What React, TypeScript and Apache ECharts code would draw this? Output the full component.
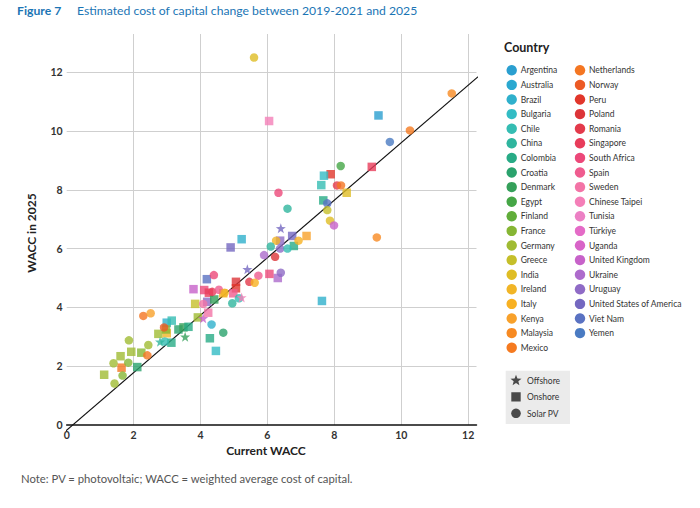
import React, { useEffect, useRef } from "react";
import * as echarts from "echarts";

const countries = [
  "Argentina", "Australia", "Brazil", "Bulgaria", "Chile", "China", "Colombia", "Croatia", "Denmark", "Egypt",
  "Finland", "France", "Germany", "Greece", "India", "Ireland", "Italy", "Kenya", "Malaysia", "Mexico",
  "Netherlands", "Norway", "Peru", "Poland", "Romania", "Singapore", "South Africa", "Spain", "Sweden",
  "Chinese Taipei", "Tunisia", "Türkiye", "Uganda", "United Kingdom", "Ukraine", "Uruguay",
  "United States of America", "Viet Nam", "Yemen",
];
const countryColors = [
  "#2a9fd0", "#2aa8d0", "#2fb0cc", "#33bcc4", "#35bdb3", "#2fb59e", "#28ab86", "#2aa26d", "#35a05a", "#45a646",
  "#61ad3a", "#86b634", "#a0bb33", "#c5bf2a", "#dfbd24", "#f1b527", "#f8b122", "#f8a12b", "#f78a22", "#f57a20",
  "#f47622", "#ec5a25", "#e1362b", "#dc3438", "#e33a4b", "#e83c5a", "#ec4879", "#ef5c8f", "#f374a6",
  "#f47fb8", "#ec80c4", "#e46bc7", "#d864c8", "#c762c9", "#ad6bcc", "#8f6bc6",
  "#7468c0", "#5a72c2", "#4a7bc2",
];

// [current WACC, WACC in 2025, country]
const solarPV: [number, number, string][] = [
  [5.6, 12.5, "India"], [11.51, 11.28, "Malaysia"], [10.26, 10.02, "Mexico"], [9.66, 9.63, "Yemen"],
  [8.19, 8.81, "Egypt"], [8.08, 8.15, "Romania"], [8.2, 8.15, "Netherlands"], [6.33, 7.9, "South Africa"],
  [6.6, 7.36, "China"], [7.79, 7.54, "Viet Nam"], [7.79, 7.31, "Greece"], [7.87, 6.95, "India"],
  [7.99, 6.79, "United Kingdom"], [6.93, 6.27, "Italy"], [6.26, 6.27, "Ireland"], [6.1, 6.07, "China"],
  [6.38, 6.0, "Uruguay"], [6.6, 6.0, "Chile"], [5.9, 5.78, "Ukraine"], [6.23, 5.72, "Poland"],
  [9.27, 6.38, "Malaysia"], [6.4, 5.18, "Uruguay"], [5.73, 5.08, "Spain"], [5.46, 4.87, "Romania"],
  [5.62, 4.84, "Italy"], [4.4, 5.1, "South Africa"], [4.35, 4.53, "Singapore"], [4.55, 4.6, "Spain"],
  [4.72, 4.5, "Ireland"], [4.08, 4.12, "Sweden"], [5.15, 4.31, "Chile"], [4.95, 4.14, "China"],
  [4.33, 3.42, "Brazil"], [4.68, 3.14, "Croatia"], [2.29, 3.71, "Netherlands"], [2.51, 3.8, "Kenya"],
  [2.91, 3.32, "Norway"], [2.93, 2.84, "Chile"], [1.86, 2.88, "Germany"], [2.44, 2.72, "Germany"],
  [1.4, 2.1, "Germany"], [1.84, 2.12, "France"], [1.67, 1.68, "France"], [1.43, 1.41, "Germany"],
  [2.41, 2.37, "Netherlands"],
];
const onshore: [number, number, string][] = [
  [6.05, 10.34, "Chinese Taipei"], [9.32, 10.53, "Argentina"], [9.12, 8.78, "Singapore"], [7.89, 8.53, "Peru"],
  [7.69, 8.48, "Bulgaria"], [7.61, 8.16, "Chile"], [8.37, 7.9, "India"], [7.67, 7.64, "Colombia"],
  [6.74, 6.43, "United States of America"], [7.17, 6.43, "Kenya"], [6.38, 6.27, "Uruguay"], [6.79, 6.09, "Colombia"],
  [5.23, 6.32, "Brazil"], [7.63, 4.22, "Brazil"], [6.31, 5.0, "Ukraine"], [6.06, 5.14, "South Africa"],
  [4.9, 6.04, "United States of America"], [4.19, 4.96, "Viet Nam"], [3.79, 4.62, "United Kingdom"],
  [5.06, 4.87, "Poland"], [5.06, 4.65, "Peru"], [4.11, 4.59, "South Africa"], [4.25, 4.5, "Singapore"],
  [4.68, 4.48, "Italy"], [4.98, 4.48, "Spain"], [4.2, 4.19, "Uruguay"], [4.41, 4.27, "Denmark"],
  [4.23, 3.82, "Sweden"], [3.84, 4.12, "Greece"], [3.92, 3.66, "Germany"], [2.74, 3.1, "Germany"],
  [2.99, 3.48, "Brazil"], [3.14, 3.55, "Chile"], [2.99, 3.12, "Ireland"], [2.97, 3.25, "France"],
  [3.13, 2.8, "Colombia"], [3.34, 3.25, "Croatia"], [3.49, 3.32, "Denmark"], [3.64, 3.34, "Colombia"],
  [4.28, 2.95, "Colombia"], [4.46, 2.52, "Bulgaria"], [1.61, 2.34, "Germany"], [1.93, 2.49, "Germany"],
  [2.23, 2.46, "France"], [1.12, 1.71, "Germany"], [1.64, 1.95, "Netherlands"], [2.11, 1.97, "Croatia"],
];
const offshore: [number, number, string][] = [
  [6.4, 6.69, "United States of America"], [5.4, 5.3, "United States of America"],
  [5.23, 4.34, "Chinese Taipei"], [4.08, 3.63, "United Kingdom"], [2.79, 2.83, "China"], [3.54, 3.0, "Denmark"],
];
const refLine = [[-0.15, -0.32], [12.3, 11.85]];
const techLabels = ["Offshore", "Onshore", "Solar PV"];

const STAR = "path://M0,-10L2.35,-3.24L9.51,-3.09L3.8,1.24L5.88,8.09L0,4.1L-5.88,8.09L-3.8,1.24L-9.51,-3.09L-2.35,-3.24Z";
const FONT = "Lato, 'Noto Sans', sans-serif";
const BLUE = "#1b75b5";

const colorOf = (c: string) => countryColors[countries.indexOf(c)] || "#888";
const toData = (arr: [number, number, string][]) =>
  arr.map(([x, y, c]) => ({ value: [x, y], name: c, itemStyle: { color: colorOf(c) } }));

function starPoints(cx: number, cy: number, r: number) {
  const pts: number[][] = [];
  for (let i = 0; i < 10; i++) {
    const a = -Math.PI / 2 + (i * Math.PI) / 5;
    const rr = i % 2 === 0 ? r : r * 0.42;
    pts.push([cx + rr * Math.cos(a), cy + rr * Math.sin(a)]);
  }
  return pts;
}

export default function App() {
  const ref = useRef<HTMLDivElement>(null);
  useEffect(() => {
    if (!ref.current) return;
    const chart = echarts.init(ref.current, null, { renderer: "svg" });
    const graphics: any[] = [
      { type: "text", left: 17, top: 4, style: { text: "Figure 7", fill: BLUE, font: `bold 12.2px ${FONT}` } },
      { type: "text", left: 77, top: 4, style: { text: "Estimated cost of capital change between 2019-2021 and 2025", fill: BLUE, font: `12.2px ${FONT}` } },
      { type: "text", x: 31, y: 233, rotation: Math.PI / 2, style: { text: "WACC in 2025", fill: "#222", font: `bold 12px ${FONT}`, align: "center", verticalAlign: "middle" } },
      { type: "text", x: 266, y: 450, style: { text: "Current WACC", fill: "#222", font: `bold 12px ${FONT}`, align: "center", verticalAlign: "middle" } },
      { type: "text", x: 21, y: 478, style: { text: "Note: PV = photovoltaic; WACC = weighted average cost of capital.", fill: "#555", font: `11.3px ${FONT}`, verticalAlign: "middle" } },
      { type: "text", x: 504, y: 47, style: { text: "Country", fill: "#222", font: `bold 12.5px ${FONT}`, verticalAlign: "middle" } },
    ];
    countries.forEach((c, i) => {
      const col = i < 20 ? 0 : 1;
      const row = i < 20 ? i : i - 20;
      const cx = col === 0 ? 511.7 : 580;
      const cy = 70.3 + row * 14.6;
      graphics.push({ type: "circle", shape: { cx, cy, r: 5.2 }, style: { fill: countryColors[i] } });
      graphics.push({ type: "text", x: cx + 9, y: cy, style: { text: c, fill: "#333", font: `8.5px ${FONT}`, verticalAlign: "middle" } });
    });
    graphics.push({ type: "rect", shape: { x: 505.7, y: 370.7, width: 64.3, height: 53.3 }, style: { fill: "#ebebeb" } });
    graphics.push({ type: "polygon", shape: { points: starPoints(516, 380.5, 5.8) }, style: { fill: "#4a4a4a" } });
    graphics.push({ type: "rect", shape: { x: 511.3, y: 392.2, width: 9.4, height: 9.4 }, style: { fill: "#4a4a4a" } });
    graphics.push({ type: "circle", shape: { cx: 516, cy: 413.3, r: 4.8 }, style: { fill: "#4a4a4a" } });
    techLabels.forEach((t, i) => {
      graphics.push({ type: "text", x: 527, y: 381 + i * 16.3, style: { text: t, fill: "#333", font: `8.5px ${FONT}`, verticalAlign: "middle" } });
    });

    chart.setOption({
      animation: false,
      textStyle: { fontFamily: FONT },
      grid: { left: 66.7, right: 223.5, top: 34, bottom: 83, containLabel: false },
      xAxis: {
        type: "value", min: 0, max: 12.25, interval: 2,
        axisLine: { show: true, lineStyle: { color: "#111", width: 1.5 } },
        axisTick: { show: false },
        axisLabel: { color: "#333", fontSize: 10.5, fontWeight: "bold", margin: 4, showMaxLabel: false },
        splitLine: { show: true, showMinLine: false, showMaxLine: false, lineStyle: { color: "#cfcfcf", width: 1 } },
      },
      yAxis: {
        type: "value", min: 0, max: 13.3, interval: 2,
        axisLine: { show: false },
        axisTick: { show: false },
        axisLabel: { color: "#333", fontSize: 10.5, fontWeight: "bold", margin: 4, showMaxLabel: false },
        splitLine: { show: true, showMinLine: false, showMaxLine: false, lineStyle: { color: "#cfcfcf", width: 1 } },
      },
      graphic: graphics,
      series: [
        { type: "line", data: refLine, symbol: "none", clip: false, silent: true, lineStyle: { color: "#111", width: 1.2 }, z: 1 },
        { type: "scatter", name: "Onshore", symbol: "rect", symbolSize: 8.5, data: toData(onshore), z: 2 },
        { type: "scatter", name: "Solar PV", symbol: "circle", symbolSize: 8.5, data: toData(solarPV), z: 3 },
        { type: "scatter", name: "Offshore", symbol: STAR, symbolSize: 10, data: toData(offshore), z: 4 },
      ],
    });
    return () => chart.dispose();
  }, []);
  return <div ref={ref} style={{ position: "absolute", left: 0, top: 0, width: 700, height: 508 }} />;
}
